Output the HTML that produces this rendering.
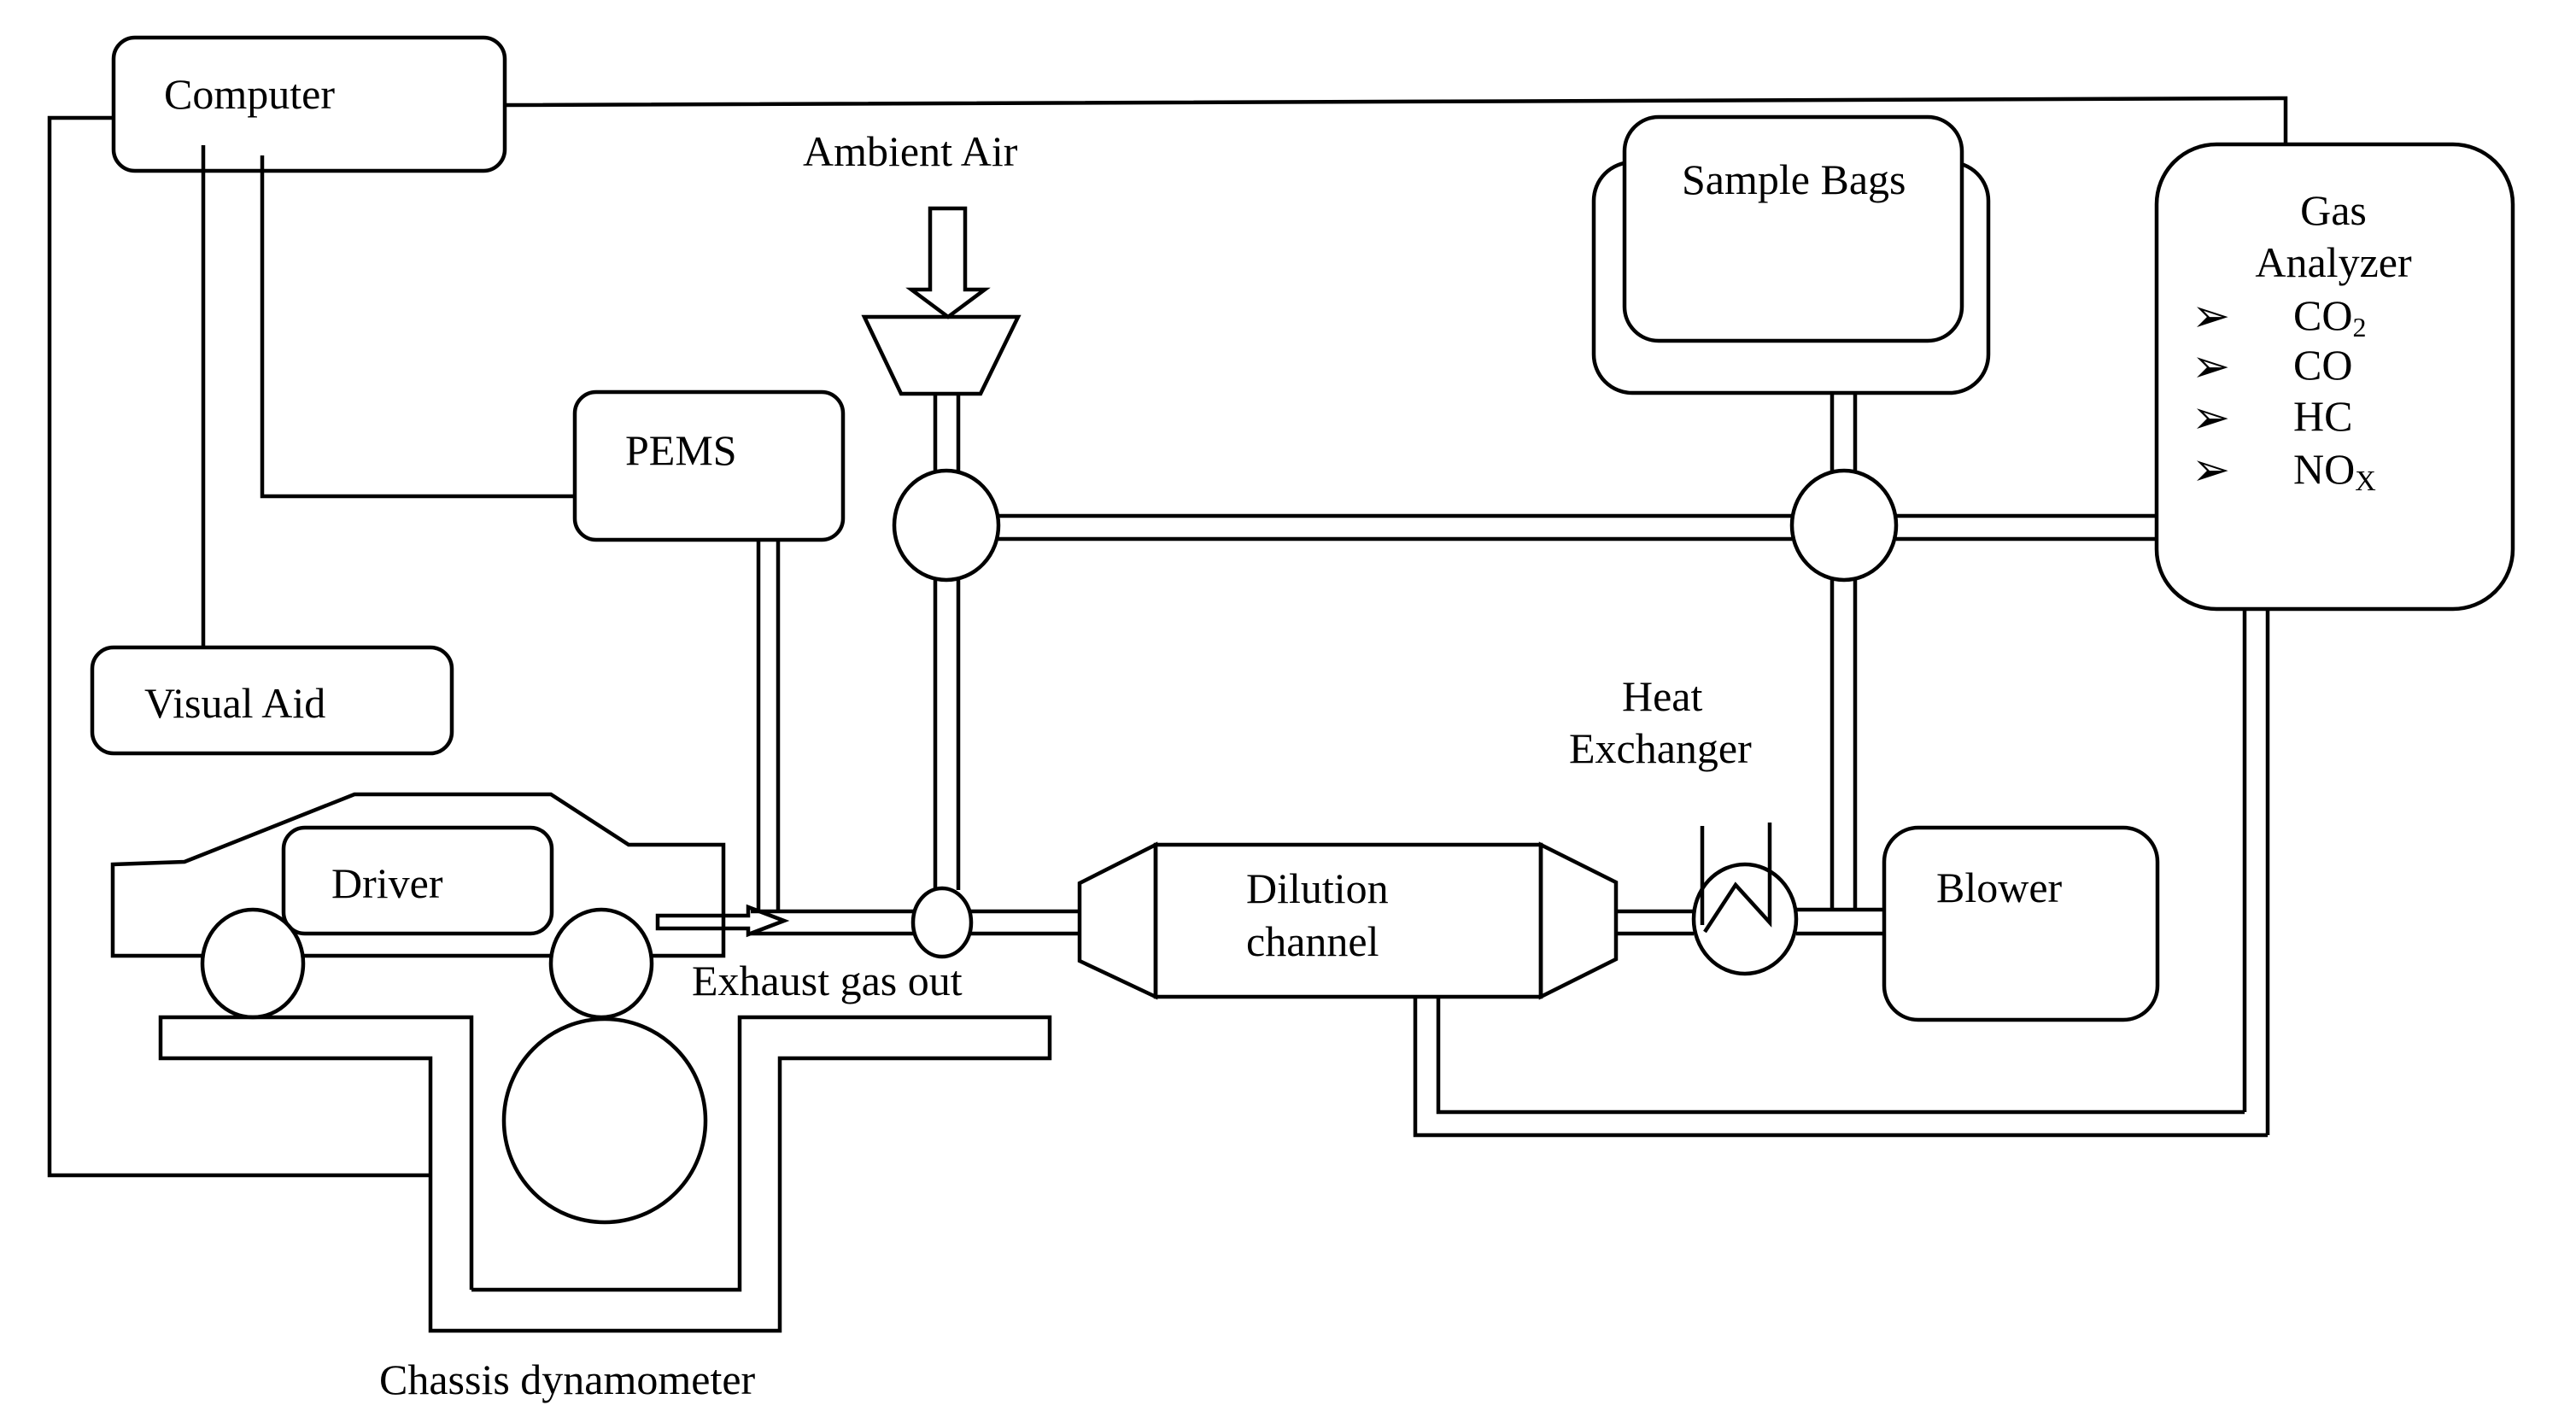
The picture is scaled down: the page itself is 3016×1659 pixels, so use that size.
<!DOCTYPE html>
<html><head><meta charset="utf-8"><style>html,body{margin:0;padding:0;background:#fff}svg{display:block}</style></head>
<body>
<svg width="3016" height="1659" viewBox="0 0 3016 1659" xmlns="http://www.w3.org/2000/svg">
<g fill="none" stroke="#000" stroke-width="4.5" stroke-linejoin="miter">
<rect x="133" y="44" width="458" height="156" rx="25"/>
<polyline points="133,138 58,138 58,1376 504,1376"/>
<polyline points="591,123 2676,115 2676,180"/>
<line x1="238" y1="170" x2="238" y2="758"/>
<polyline points="307,182 307,581 673,581"/>
<rect x="108" y="758" width="421" height="124" rx="25"/>
<rect x="673" y="459" width="314" height="173" rx="25"/>
<line x1="888" y1="632" x2="888" y2="1067"/>
<line x1="911" y1="632" x2="911" y2="1067"/>
<polygon points="1089,244 1130,244 1130,339 1153,339 1110,371 1067,339 1089,339"/>
<polygon points="1012,371 1192,371 1148,461 1055,461"/>
<line x1="1095" y1="461" x2="1095" y2="553"/>
<line x1="1122" y1="461" x2="1122" y2="553"/>
<line x1="1095" y1="677" x2="1095" y2="1042"/>
<line x1="1122" y1="677" x2="1122" y2="1042"/>
<line x1="1169" y1="604" x2="2098" y2="604"/>
<line x1="1169" y1="631" x2="2098" y2="631"/>
<line x1="2220" y1="604" x2="2525" y2="604"/>
<line x1="2220" y1="631" x2="2525" y2="631"/>
<ellipse cx="1108" cy="615" rx="61" ry="64" fill="#fff"/>
<ellipse cx="2159" cy="615" rx="61" ry="64" fill="#fff"/>
<rect x="1866" y="190" width="462" height="270" rx="45" fill="#fff"/>
<rect x="1902" y="137" width="395" height="262" rx="40" fill="#fff"/>
<line x1="2145" y1="460" x2="2145" y2="553"/>
<line x1="2172" y1="460" x2="2172" y2="553"/>
<line x1="2145" y1="677" x2="2145" y2="1067"/>
<line x1="2172" y1="677" x2="2172" y2="1067"/>
<rect x="2525" y="169" width="417" height="544" rx="70" fill="#fff"/>
<line x1="2628" y1="713" x2="2628" y2="1302"/>
<line x1="2655" y1="713" x2="2655" y2="1329"/>
<polyline points="1657,1167 1657,1329 2655,1329"/>
<polyline points="1684,1167 1684,1302 2628,1302"/>
<polygon points="132,1012 216,1009 415,930 645,930 736,989 847,989 847,1119 132,1119"/>
<rect x="332" y="969" width="314" height="124" rx="25"/>
<ellipse cx="296" cy="1128" rx="59" ry="63" fill="#fff"/>
<ellipse cx="704" cy="1128" rx="59" ry="63" fill="#fff"/>
<ellipse cx="708" cy="1312" rx="118" ry="119"/>
<polyline points="552,1510 552,1191 188,1191 188,1239 504,1239 504,1558 913,1558 913,1239 1229,1239 1229,1191 866,1191 866,1510 552,1510"/>
<polygon points="770,1072 876,1072 876,1062 918,1078 876,1094 876,1087 770,1087"/>
<polyline points="879,1067 1070,1067"/>
<polyline points="879,1093 1070,1093"/>
<line x1="1136" y1="1067" x2="1264" y2="1067"/>
<line x1="1136" y1="1093" x2="1264" y2="1093"/>
<ellipse cx="1103" cy="1080" rx="34" ry="40" fill="#fff"/>
<polygon points="1264,1034 1353,989 1353,1167 1264,1125"/>
<rect x="1353" y="989" width="451" height="178"/>
<polygon points="1804,989 1892,1033 1892,1123 1804,1167"/>
<line x1="1892" y1="1067" x2="1983" y2="1067"/>
<line x1="1892" y1="1093" x2="1983" y2="1093"/>
<ellipse cx="2043" cy="1076" rx="60" ry="64"/>
<line x1="1993" y1="967" x2="1993" y2="1083"/>
<polyline points="1996,1091 2032,1036 2072,1080 2072,963"/>
<line x1="2103" y1="1065" x2="2206" y2="1065"/>
<line x1="2103" y1="1093" x2="2206" y2="1093"/>
<rect x="2206" y="969" width="320" height="225" rx="40"/>
</g>
<g font-family="'Liberation Serif', serif" font-size="50" fill="#000">
<text x="192" y="127">Computer</text>
<text x="169" y="840">Visual Aid</text>
<text x="732" y="544">PEMS</text>
<text x="940" y="194">Ambient Air</text>
<text x="1969" y="227">Sample Bags</text>
<text x="2732" y="263" text-anchor="middle">Gas</text>
<text x="2732" y="324" text-anchor="middle">Analyzer</text>
<text x="2566" y="388" font-family="'DejaVu Sans', sans-serif" font-size="54">➢</text>
<text x="2566" y="447" font-family="'DejaVu Sans', sans-serif" font-size="54">➢</text>
<text x="2566" y="507" font-family="'DejaVu Sans', sans-serif" font-size="54">➢</text>
<text x="2566" y="568" font-family="'DejaVu Sans', sans-serif" font-size="54">➢</text>
<text x="2685" y="386">CO<tspan font-size="32" dy="8">2</tspan></text>
<text x="2685" y="444">CO</text>
<text x="2685" y="504">HC</text>
<text x="2685" y="566">NO<tspan font-size="34" dy="8">X</tspan></text>
<text x="388" y="1051">Driver</text>
<text x="810" y="1165">Exhaust gas out</text>
<text x="444" y="1632">Chassis dynamometer</text>
<text x="1459" y="1057">Dilution</text>
<text x="1459" y="1119">channel</text>
<text x="1899" y="832">Heat</text>
<text x="1837" y="893">Exchanger</text>
<text x="2267" y="1056">Blower</text>
</g>
</svg>
</body></html>
